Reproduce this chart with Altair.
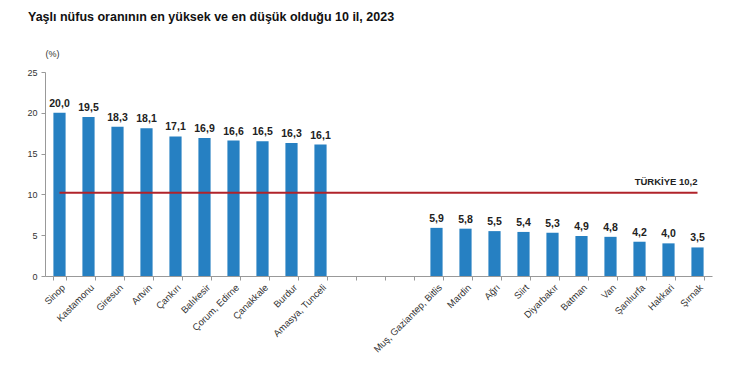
import altair as alt
import pandas as pd

provinces = ["Sinop", "Kastamonu", "Giresun", "Artvin", "Çankırı", "Balıkesir",
             "Çorum, Edirne", "Çanakkale", "Burdur", "Amasya, Tunceli",
             "_1", "_2", "_3",
             "Muş, Gaziantep, Bitlis", "Mardin", "Ağrı", "Siirt", "Diyarbakır",
             "Batman", "Van", "Şanlıurfa", "Hakkari", "Şırnak"]
values = [20.0, 19.5, 18.3, 18.1, 17.1, 16.9, 16.6, 16.5, 16.3, 16.1,
          None, None, None,
          5.9, 5.8, 5.5, 5.4, 5.3, 4.9, 4.8, 4.2, 4.0, 3.5]
turkiye = 10.2

df = pd.DataFrame({"il": provinces, "oran": values})
df["etiket"] = [("" if v is None or pd.isna(v) else f"{v:.1f}".replace(".", ",")) for v in df["oran"]]
bars_df = df.dropna(subset=["oran"])

line_df = pd.DataFrame({"il": [provinces[0], provinces[-1]], "oran": [turkiye, turkiye]})
lab_df = pd.DataFrame({"il": [provinces[-1]], "oran": [turkiye],
                       "etiket": ["TÜRKİYE  " + f"{turkiye:.1f}".replace(".", ",")]})

FONT = "Liberation Sans"

x = alt.X("il:N", sort=provinces, scale=alt.Scale(domain=provinces, paddingInner=0.58, paddingOuter=0.29),
          axis=alt.Axis(title=None, labelAngle=-45, labelAlign="right", labelBaseline="top",
                        labelExpr="indexof(datum.label,'_')==0 ? '' : datum.label",
                        labelFont=FONT, labelFontSize=9.5, labelColor="#333333", labelPadding=2,
                        tickBand="extent", tickColor="#999999", domainColor="#999999",
                        tickSize=4, labelOverlap=False))
y = alt.Y("oran:Q", scale=alt.Scale(domain=[0, 25], nice=False, zero=True),
          axis=alt.Axis(title="(%)", titleAngle=0, titleX=0, titleY=-14, titleAlign="left",
                        titleFont=FONT, titleFontSize=9, titleFontWeight="normal", titleColor="#333333",
                        values=[0, 5, 10, 15, 20, 25], grid=False,
                        labelFont=FONT, labelFontSize=9, labelColor="#333333",
                        tickColor="#999999", domainColor="#999999", tickSize=4, labelPadding=4))

bars = alt.Chart(bars_df).mark_bar(color="#2680C2").encode(x=x, y=y)
texts = alt.Chart(bars_df).mark_text(dy=-9, font=FONT, fontSize=10.5, fontWeight="bold", color="#222222").encode(
    x=alt.X("il:N", sort=provinces), y="oran:Q", text="etiket:N")
line = alt.Chart(line_df).mark_line(color="#B0232A", strokeWidth=2).encode(
    x=alt.X("il:N", sort=provinces), y="oran:Q")
tlabel = alt.Chart(lab_df).mark_text(dy=-11, align="right", font=FONT, fontSize=9.5, fontWeight="bold",
                                     color="#222222").encode(
    x=alt.X("il:N", sort=provinces), y="oran:Q", text="etiket:N")

chart = alt.layer(bars, line, texts, tlabel).properties(
    width=667, height=204,
    title=alt.TitleParams("Yaşlı nüfus oranının en yüksek ve en düşük olduğu 10 il, 2023",
                          anchor="start", frame="group", dx=-17, offset=26, font=FONT,
                          fontSize=12.5, fontWeight="bold", color="#111111"),
    autosize=alt.AutoSizeParams(type="none"),
    padding={"left": 37, "top": 64, "right": 30, "bottom": 83},
).configure(background="white").configure_view(strokeWidth=0, stroke="transparent")

chart.save("out.html", embed_options={"renderer": "svg", "actions": False})
